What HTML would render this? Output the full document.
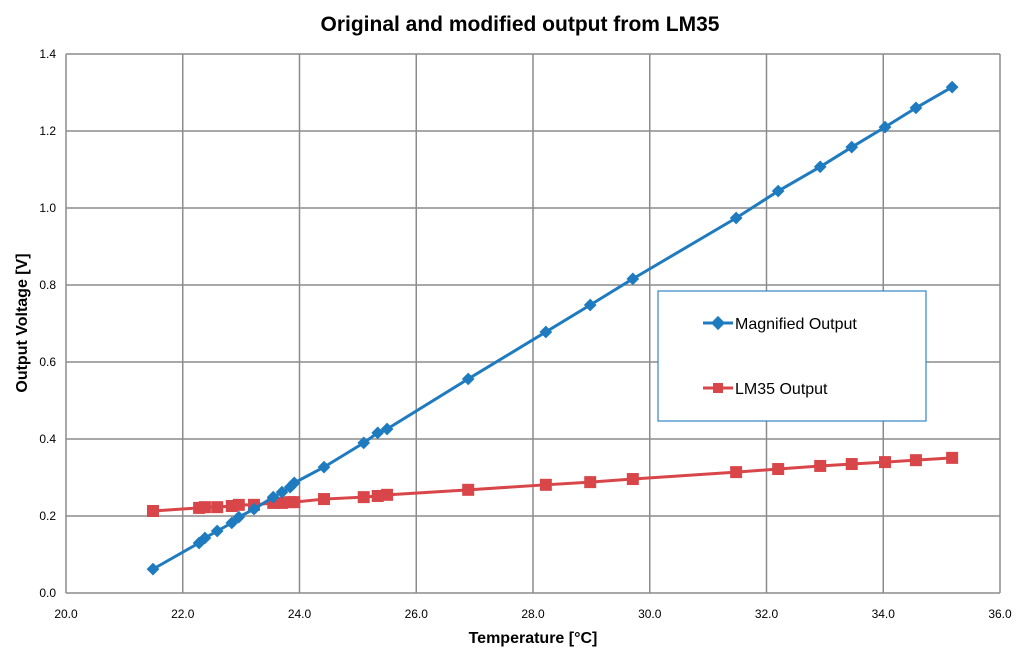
<!DOCTYPE html>
<html><head><meta charset="utf-8"><style>
body{margin:0;background:#fff;}
svg{display:block;font-family:"Liberation Sans",sans-serif;}
</style></head><body>
<svg id="chart" width="1024" height="657" viewBox="0 0 1024 657">
<text x="520" y="31" text-anchor="middle" font-size="21" font-weight="bold" fill="#000">Original and modified output from LM35</text>
<g id="grid"></g>
<g id="ticks"></g>
<text x="533" y="643" text-anchor="middle" font-size="16" font-weight="bold">Temperature [°C]</text>
<text transform="translate(27,323) rotate(-90)" text-anchor="middle" font-size="16" font-weight="bold">Output Voltage [V]</text>
<g id="series"></g>
<g>
<rect x="658" y="291" width="268" height="130" fill="#fff" stroke="#2f86c8" stroke-width="1.2"/>
<g>
<line x1="703" y1="323" x2="733" y2="323" stroke="#1f7bc0" stroke-width="3"/>
<rect x="713" y="318" width="10" height="10" fill="#1f7bc0" transform="rotate(45 718 323)"/>
<text x="735" y="329" font-size="16">Magnified Output</text></g>
<g>
<line x1="703" y1="388" x2="733" y2="388" stroke="#d9464a" stroke-width="3"/>
<rect x="713" y="383" width="10" height="10" fill="#d9464a"/>
<text x="735" y="394" font-size="16">LM35 Output</text></g>
</g>
</svg>
<script>
const temps=[21.49,22.28,22.38,22.59,22.84,22.96,23.22,23.55,23.70,23.84,23.91,24.42,25.10,25.34,25.50,26.89,28.22,28.98,29.71,31.48,32.20,32.92,33.46,34.03,34.56,35.18];
const magnified=[0.062,0.130,0.143,0.161,0.182,0.197,0.218,0.249,0.262,0.275,0.286,0.327,0.390,0.416,0.426,0.556,0.678,0.748,0.816,0.974,1.044,1.107,1.158,1.210,1.260,1.314];
const lm35=[0.213,0.221,0.223,0.223,0.226,0.229,0.229,0.234,0.234,0.236,0.236,0.244,0.249,0.252,0.255,0.268,0.281,0.288,0.296,0.314,0.322,0.330,0.335,0.340,0.345,0.351];
const xTicks=[20,22,24,26,28,30,32,34,36];
const yTicks=[0,0.2,0.4,0.6,0.8,1.0,1.2,1.4];
const NS="http://www.w3.org/2000/svg";
const X0=66,X1=1000,Y0=593,Y1=54;
const xs=v=>X0+(v-20)/16*(X1-X0);
const ys=v=>Y0-v/1.4*(Y0-Y1);
function mk(t,a,p){const e=document.createElementNS(NS,t);for(const k in a)e.setAttribute(k,a[k]);p.appendChild(e);return e;}
const grid=document.getElementById('grid'),ticks=document.getElementById('ticks'),series=document.getElementById('series');
xTicks.forEach(v=>{const l=mk('line',{x1:xs(v),x2:xs(v),y1:Y1,y2:Y0,stroke:'#8c8c8c','stroke-width':1.5},grid);


const t=mk('text',{x:xs(v),y:618,'text-anchor':'middle','font-size':12},ticks);t.textContent=v.toFixed(1);

});
yTicks.forEach(v=>{const l=mk('line',{x1:X0,x2:X1,y1:ys(v),y2:ys(v),stroke:'#8c8c8c','stroke-width':1.5},grid);


const t=mk('text',{x:56,y:ys(v)+4,'text-anchor':'end','font-size':12},ticks);t.textContent=v.toFixed(1);

});
function draw(vals,color,shape,name){
const g=mk('g',{},series);


const pl=mk('polyline',{points:temps.map((t,i)=>xs(t)+','+ys(vals[i])).join(' '),fill:'none',stroke:color,'stroke-width':3},g);


temps.forEach((t,i)=>{const x=xs(t),y=ys(vals[i]);let m;
if(shape==='d')m=mk('rect',{x:x-4.5,y:y-4.5,width:9,height:9,fill:color,transform:`rotate(45 ${x} ${y})`},g);
else m=mk('rect',{x:x-6,y:y-6,width:12,height:12,fill:color},g);

});}
draw(lm35,'#d9464a','s','lm35-output-series');
draw(magnified,'#1f7bc0','d','magnified-output-series');
</script>
</body></html>
